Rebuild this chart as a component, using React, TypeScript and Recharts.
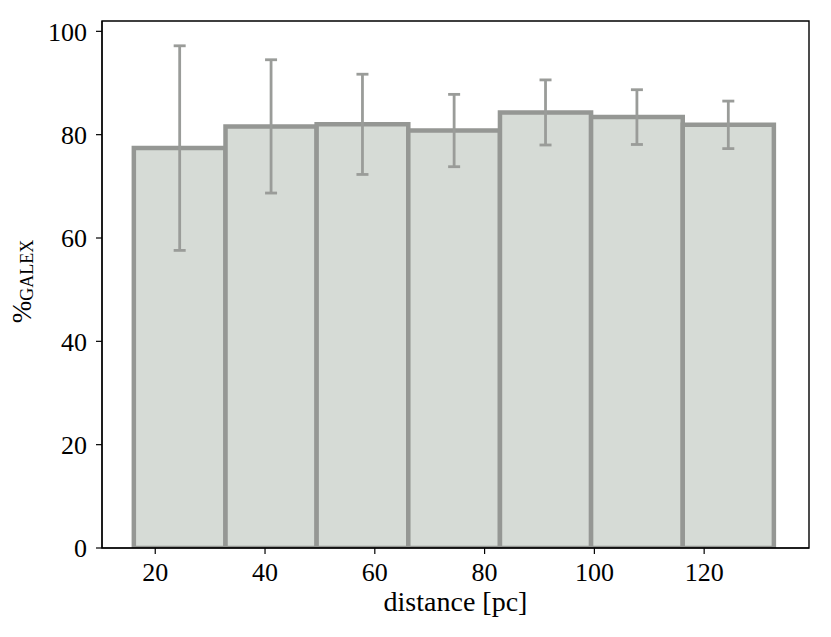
import {
  ComposedChart,
  ErrorBar,
  ReferenceArea,
  Scatter,
  XAxis,
  YAxis,
} from "recharts";

// histogram bin edges in pc
const binEdges = [16.1, 32.8, 49.4, 66.1, 82.8, 99.4, 116.1, 132.7];
// fraction of GALEX detections per bin, in %
const galexPct = [77.4, 81.6, 82.0, 80.8, 84.3, 83.4, 81.9];
// symmetric 1-sigma errors
const galexErr = [19.8, 12.9, 9.7, 7.0, 6.3, 5.3, 4.6];

const xTicks = [20, 40, 60, 80, 100, 120];
const yTicks = [0, 20, 40, 60, 80, 100];

const bins = galexPct.map((value, i) => ({
  x1: binEdges[i],
  x2: binEdges[i + 1],
  center: (binEdges[i] + binEdges[i + 1]) / 2,
  value,
  err: galexErr[i],
}));

const FONT = "'Liberation Serif', 'DejaVu Serif', serif";
const BAR_FILL = "#d6dbd6";
const BAR_EDGE = "#959794";
const ERR_COLOR = "#9a9c99";

function YLabel({ viewBox }: any) {
  const cx = viewBox.x + 22;
  const cy = viewBox.y + viewBox.height / 2 - 3;
  return (
    <text
      x={cx}
      y={cy}
      transform={`rotate(-90, ${cx}, ${cy})`}
      textAnchor="middle"
      dominantBaseline="central"
      fontFamily={FONT}
      fill="#000"
    >
      <tspan fontSize={27}>%</tspan>
      <tspan fontSize={18} dy={5}>
        GALEX
      </tspan>
    </text>
  );
}

function XLabel({ viewBox }: any) {
  return (
    <text
      x={viewBox.x + viewBox.width / 2}
      y={viewBox.y + 63}
      textAnchor="middle"
      fontFamily={FONT}
      fontSize={28}
      fill="#000"
    >
      distance [pc]
    </text>
  );
}

export default function App() {
  const tickStyle = { fontSize: 26, fontFamily: FONT, fill: "#000" };
  return (
    <div style={{ width: 831, height: 637 }}>
      <style>{`body { margin: 0; }`}</style>
      <ComposedChart
        width={831}
        height={637}
        data={bins}
        margin={{ top: 21, right: 22, left: 0, bottom: 0 }}
      >
        <XAxis
          type="number"
          dataKey="center"
          domain={[10.3, 139.1]}
          allowDataOverflow
          ticks={xTicks}
          height={89}
          tick={tickStyle}
          tickSize={6}
          tickMargin={9}
          axisLine={{ stroke: "#000", strokeWidth: 1.2 }}
          tickLine={{ stroke: "#000", strokeWidth: 1.2 }}
          label={<XLabel />}
        />
        <YAxis
          type="number"
          domain={[0, 102]}
          allowDataOverflow
          ticks={yTicks}
          width={102}
          tick={tickStyle}
          tickSize={6}
          tickMargin={9}
          axisLine={{ stroke: "#000", strokeWidth: 1.2 }}
          tickLine={{ stroke: "#000", strokeWidth: 1.2 }}
          label={<YLabel />}
        />
        {bins.map((b, i) => (
          <ReferenceArea
            key={i}
            x1={b.x1}
            x2={b.x2}
            y1={0}
            y2={b.value}
            fill={BAR_FILL}
            fillOpacity={1}
            stroke={BAR_EDGE}
            strokeWidth={4.5}
            ifOverflow="hidden"
          />
        ))}
        <Scatter
          dataKey="value"
          isAnimationActive={false}
          shape={() => <g />}
          legendType="none"
        >
          <ErrorBar
            dataKey="err"
            direction="y"
            width={6}
            stroke={ERR_COLOR}
            strokeWidth={2.8}
          />
        </Scatter>
        <ReferenceArea
          x1={10.3}
          x2={139.1}
          y1={0}
          y2={102}
          fill="none"
          stroke="#000"
          strokeWidth={1.4}
        />
      </ComposedChart>
    </div>
  );
}
